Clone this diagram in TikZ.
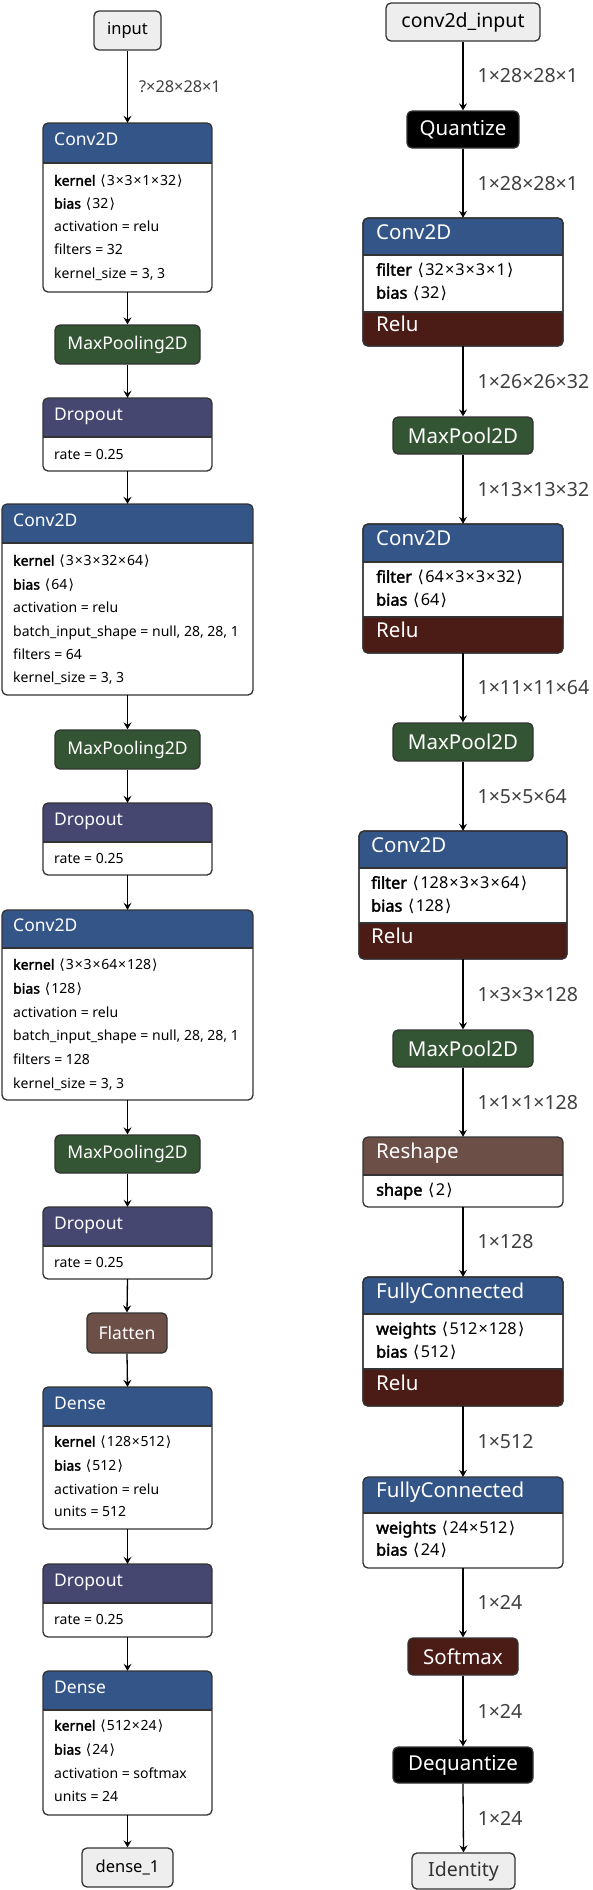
\documentclass[tikz,border=0pt]{standalone}
\usepackage{fontspec}
\setmainfont{Noto Sans}
\newfontfamily\bfam[FakeBold=2.2]{Noto Sans}
\newfontfamily\djv{DejaVu Sans}
\usetikzlibrary{arrows.meta}
\definecolor{cLayer}{HTML}{335588}
\definecolor{cPool}{HTML}{335533}
\definecolor{cNorm}{HTML}{454770}
\definecolor{cShape}{HTML}{6C4F47}
\definecolor{cAct}{HTML}{4B1B16}
\definecolor{cIO}{HTML}{EEEEEE}
\definecolor{cBorder}{HTML}{333333}
\definecolor{cLabel}{HTML}{404040}
\newcommand\myL{\hspace{0.35em}{\djv ⟨}\kern0.08em}
\newcommand\myR{\kern0.08em{\djv ⟩}}
\newcommand\tm{\kern0.06em×\kern0.06em}
\newcommand\bn[1]{{\bfam #1}}
\newcommand\hdfL{\fontsize{17.5}{20}\selectfont}
\newcommand\hdfR{\fontsize{20.5}{24}\selectfont}
\newcommand\bdfL{\fontsize{14}{17}\selectfont}
\newcommand\bdfR{\fontsize{16.3}{19}\selectfont}
\newcommand\lbfL{\fontsize{16.3}{19}\selectfont}
\newcommand\lbfR{\fontsize{19.5}{22}\selectfont}
\newcommand\iofL{\fontsize{16.5}{19}\selectfont}
\newcommand\iofR{\fontsize{19.5}{22}\selectfont}
\let\hdf\hdfL
\let\bdf\bdfL
\def\hoff{11}
\tikzset{
  boxborder/.style={draw=cBorder, line width=1.3pt, rounded corners=5pt},
  edge/.style={line width=1.3pt, -{Stealth[length=7pt,width=8pt,inset=2.5pt]}},
  elabelL/.style={midway, anchor=west, xshift=11pt, text=cLabel, inner sep=0pt, font=\lbfL},
  elabelR/.style={midway, anchor=west, xshift=14pt, text=cLabel, inner sep=0pt, font=\lbfR},
  bodytext/.style={anchor=west, inner sep=0pt, text height=0.72em, text depth=0.2em},
}
% header box: name, x1, y1, x2, y2, header-bottom, colour, title
\newcommand\netnode[8]{%
  \node[inner sep=0pt, minimum width={#4-#2}, minimum height={#5-#3}] (#1) at ({(#2+#4)/2},{(#3+#5)/2}) {};
  \fill[white, rounded corners=5pt] (#2,#3) rectangle (#4,#5);
  \begin{scope}
    \clip[rounded corners=5pt] (#2,#3) rectangle (#4,#5);
    \fill[#7] (#2,#3) rectangle (#4,#6);
  \end{scope}
  \draw[draw=cBorder, line width=1.3pt] (#2,#6) -- (#4,#6);
  \draw[boxborder] (#2,#3) rectangle (#4,#5);
  \node[bodytext, text=white] (#1-title) at ({#2+\hoff},{(#3+#6)/2}) {\hdf #8};
}
% activation footer: x1, y1, x2, y2, footer-top, text
\newcommand\relufoot[6]{%
  \begin{scope}
    \clip[rounded corners=5pt] (#1,#2) rectangle (#3,#4);
    \fill[cAct] (#1,#5) rectangle (#3,#4);
  \end{scope}
  \draw[draw=cBorder, line width=1.3pt] (#1,#5) -- (#3,#5);
  \draw[boxborder] (#1,#2) rectangle (#3,#4);
  \node[bodytext, text=white] at ({#1+\hoff},{(#5+#4)/2}) {\hdf #6};
}
% plain box: name, x1, y1, x2, y2, fill, text, text colour
\newcommand\plainbox[8]{%
  \node[boxborder, fill=#6, text=#8, inner sep=0pt, minimum width={#4-#2}, minimum height={#5-#3}] (#1) at ({(#2+#4)/2},{(#3+#5)/2}) {#7};
}
\newcommand\bline[3]{\node[bodytext] at (#1,#2) {\bdf #3};}

\begin{document}
\begin{tikzpicture}[x=1pt,y=-1pt]
\useasboundingbox (0,0) rectangle (592,1890);
\fill[white] (0,0) rectangle (592,1890);

% ================= LEFT COLUMN =================
\let\hdf\hdfL \let\bdf\bdfL \def\hoff{11}
\plainbox{input}{94}{11}{161}{50}{cIO}{\iofL input}{black}

\netnode{conva}{43}{123}{212}{292}{163}{cLayer}{Conv2D}
\bline{54}{183}{\bn{kernel}\myL3\tm3\tm1\tm32\myR}
\bline{54}{206}{\bn{bias}\myL32\myR}
\bline{54}{229}{activation = relu}
\bline{54}{252}{filters = 32}
\bline{54}{276}{kernel\_size = 3, 3}

\plainbox{poola}{55}{325}{200}{364}{cPool}{\hdfL MaxPooling2D}{white}

\netnode{dropa}{43}{398}{212}{471}{437}{cNorm}{Dropout}
\bline{54}{457}{rate = 0.25}

\netnode{convb}{2}{504}{253}{695}{543}{cLayer}{Conv2D}
\bline{13}{563}{\bn{kernel}\myL3\tm3\tm32\tm64\myR}
\bline{13}{587}{\bn{bias}\myL64\myR}
\bline{13}{610}{activation = relu}
\bline{13}{634}{batch\_input\_shape = null, 28, 28, 1}
\bline{13}{657}{filters = 64}
\bline{13}{680}{kernel\_size = 3, 3}

\plainbox{poolb}{55}{730}{200}{769}{cPool}{\hdfL MaxPooling2D}{white}

\netnode{dropb}{43}{803}{212}{875}{842}{cNorm}{Dropout}
\bline{54}{861}{rate = 0.25}

\netnode{convc}{2}{910}{253}{1100}{948}{cLayer}{Conv2D}
\bline{13}{967}{\bn{kernel}\myL3\tm3\tm64\tm128\myR}
\bline{13}{991}{\bn{bias}\myL128\myR}
\bline{13}{1015}{activation = relu}
\bline{13}{1038}{batch\_input\_shape = null, 28, 28, 1}
\bline{13}{1062}{filters = 128}
\bline{13}{1086}{kernel\_size = 3, 3}

\plainbox{poolc}{55}{1135}{200}{1173}{cPool}{\hdfL MaxPooling2D}{white}

\netnode{dropc}{43}{1207}{212}{1279}{1246}{cNorm}{Dropout}
\bline{54}{1265}{rate = 0.25}

\plainbox{flat}{87}{1313}{167}{1353}{cShape}{\hdfL Flatten}{white}

\netnode{densea}{43}{1387}{212}{1529}{1426}{cLayer}{Dense}
\bline{54}{1444}{\bn{kernel}\myL128\tm512\myR}
\bline{54}{1468}{\bn{bias}\myL512\myR}
\bline{54}{1492}{activation = relu}
\bline{54}{1514}{units = 512}

\netnode{dropd}{43}{1564}{212}{1637}{1603}{cNorm}{Dropout}
\bline{54}{1622}{rate = 0.25}

\netnode{denseb}{43}{1671}{212}{1815}{1710}{cLayer}{Dense}
\bline{54}{1728}{\bn{kernel}\myL512\tm24\myR}
\bline{54}{1752}{\bn{bias}\myL24\myR}
\bline{54}{1776}{activation = softmax}
\bline{54}{1799}{units = 24}

\plainbox{outl}{82}{1848}{173}{1887}{cIO}{\iofL dense\_1}{black}

\draw[edge] (input.south) -- node[elabelL] {?×28×28×1} (conva.north);
\draw[edge] (conva.south) -- (poola.north);
\draw[edge] (poola.south) -- (dropa.north);
\draw[edge] (dropa.south) -- (convb.north);
\draw[edge] (convb.south) -- (poolb.north);
\draw[edge] (poolb.south) -- (dropb.north);
\draw[edge] (dropb.south) -- (convc.north);
\draw[edge] (convc.south) -- (poolc.north);
\draw[edge] (poolc.south) -- (dropc.north);
\draw[edge] (dropc.south) -- (flat.north);
\draw[edge] (flat.south) -- (densea.north);
\draw[edge] (densea.south) -- (dropd.north);
\draw[edge] (dropd.south) -- (denseb.north);
\draw[edge] (denseb.south) -- (outl.north);

% ================= RIGHT COLUMN =================
\let\hdf\hdfR \let\bdf\bdfR \def\hoff{13}
\plainbox{inr}{386}{3}{540}{41}{cIO}{\iofR conv2d\_input}{black}
\plainbox{quant}{407}{111}{519}{148}{black}{\hdfR Quantize}{white}

\netnode{cra}{363}{218}{563}{346}{255}{cLayer}{Conv2D}
\bline{376}{273}{\bn{filter}\myL32\tm3\tm3\tm1\myR}
\bline{376}{296}{\bn{bias}\myL32\myR}
\relufoot{363}{218}{563}{346}{312}{Relu}

\plainbox{mpa}{393}{417}{533}{454}{cPool}{\hdfR MaxPool2D}{white}

\netnode{crb}{363}{524}{563}{653}{562}{cLayer}{Conv2D}
\bline{376}{580}{\bn{filter}\myL64\tm3\tm3\tm32\myR}
\bline{376}{603}{\bn{bias}\myL64\myR}
\relufoot{363}{524}{563}{653}{617}{Relu}

\plainbox{mpb}{393}{723}{533}{761}{cPool}{\hdfR MaxPool2D}{white}

\def\hoff{12}
\netnode{crc}{359}{831}{567}{959}{868}{cLayer}{Conv2D}
\bline{371}{886}{\bn{filter}\myL128\tm3\tm3\tm64\myR}
\bline{371}{909}{\bn{bias}\myL128\myR}
\relufoot{359}{831}{567}{959}{923}{Relu}
\def\hoff{13}

\plainbox{mpc}{393}{1030}{533}{1067}{cPool}{\hdfR MaxPool2D}{white}

\netnode{resh}{363}{1137}{563}{1207}{1175}{cShape}{Reshape}
\bline{376}{1193}{\bn{shape}\myL2\myR}

\netnode{fca}{363}{1277}{563}{1406}{1314}{cLayer}{FullyConnected}
\bline{376}{1332}{\bn{weights}\myL512\tm128\myR}
\bline{376}{1355}{\bn{bias}\myL512\myR}
\relufoot{363}{1277}{563}{1406}{1369}{Relu}

\netnode{fcb}{363}{1477}{563}{1568}{1513}{cLayer}{FullyConnected}
\bline{376}{1531}{\bn{weights}\myL24\tm512\myR}
\bline{376}{1553}{\bn{bias}\myL24\myR}

\plainbox{smax}{408}{1638}{518}{1675}{cAct}{\hdfR Softmax}{white}
\plainbox{dequant}{393}{1747}{533}{1783}{black}{\hdfR Dequantize}{white}
\plainbox{ident}{412}{1853}{515}{1889}{cIO}{\iofR Identity}{black!80}

\draw[edge] (inr.south) -- node[elabelR] {1×28×28×1} (quant.north);
\draw[edge] (quant.south) -- node[elabelR] {1×28×28×1} (cra.north);
\draw[edge] (cra.south) -- node[elabelR] {1×26×26×32} (mpa.north);
\draw[edge] (mpa.south) -- node[elabelR] {1×13×13×32} (crb.north);
\draw[edge] (crb.south) -- node[elabelR] {1×11×11×64} (mpb.north);
\draw[edge] (mpb.south) -- node[elabelR] {1×5×5×64} (crc.north);
\draw[edge] (crc.south) -- node[elabelR] {1×3×3×128} (mpc.north);
\draw[edge] (mpc.south) -- node[elabelR] {1×1×1×128} (resh.north);
\draw[edge] (resh.south) -- node[elabelR] {1×128} (fca.north);
\draw[edge] (fca.south) -- node[elabelR] {1×512} (fcb.north);
\draw[edge] (fcb.south) -- node[elabelR] {1×24} (smax.north);
\draw[edge] (smax.south) -- node[elabelR] {1×24} (dequant.north);
\draw[edge] (dequant.south) -- node[elabelR] {1×24} (ident.north);
\end{tikzpicture}
\end{document}
